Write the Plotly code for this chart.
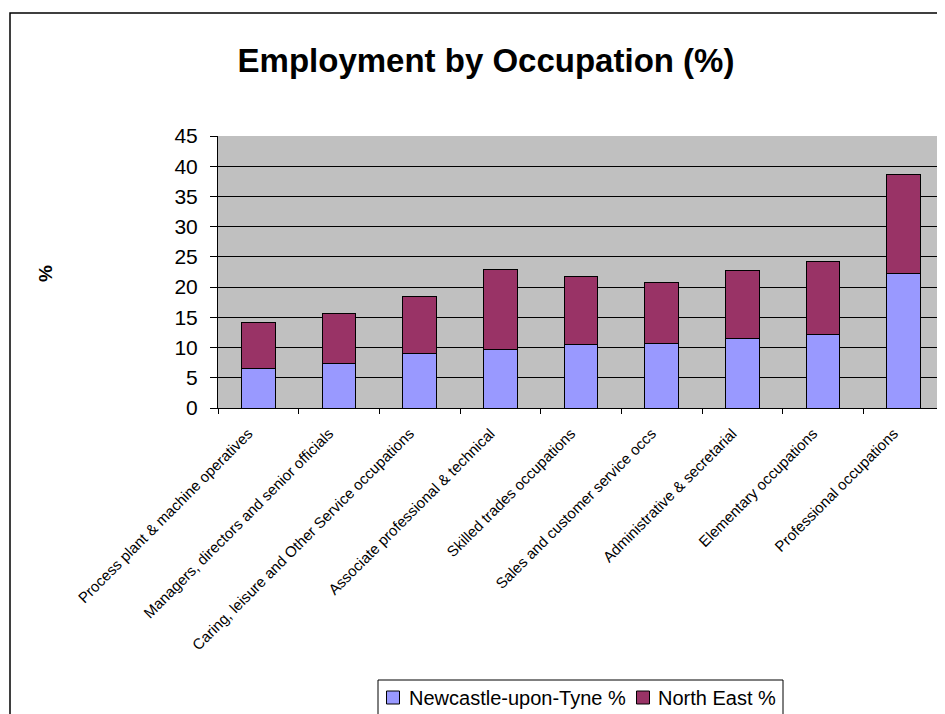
import plotly.graph_objects as go

categories = [
    "Process plant & machine operatives",
    "Managers, directors and senior officials",
    "Caring, leisure and Other Service occupations",
    "Associate professional & technical",
    "Skilled trades occupations",
    "Sales and customer service occs",
    "Administrative & secretarial",
    "Elementary occupations",
    "Professional occupations",
]
newcastle = [6.6, 7.4, 9.0, 9.6, 10.5, 10.7, 11.5, 12.1, 22.2]
north_east = [7.6, 8.3, 9.5, 13.3, 11.3, 10.1, 11.2, 12.2, 16.4]
y_ticks = [0, 5, 10, 15, 20, 25, 30, 35, 40, 45]
series_names = ["Newcastle-upon-Tyne %", "North East %"]
series_colors = ["#9999FF", "#993366"]

FONT = "Liberation Sans, Arial, sans-serif"
OFF = 8  # page body margin

fig = go.Figure()
for vals, name, col in zip([newcastle, north_east], series_names, series_colors):
    fig.add_trace(go.Bar(
        x=categories, y=vals, name=name,
        marker=dict(color=col, line=dict(color="black", width=1)),
        width=0.42, showlegend=False,
    ))

W, H = 945, 714
# plot area in window coords
L, R, T, B = 218, 944, 136, 408
pw, ph = R - L, B - T

def px_x(x):
    return (x - L) / pw

def px_y(y):
    return (B - y) / ph

fig.update_layout(
    width=W, height=H,
    margin=dict(l=L - OFF, r=W - (R - OFF), t=T - OFF, b=H - (B - OFF), autoexpand=False),
    paper_bgcolor="white",
    plot_bgcolor="#C0C0C0",
    barmode="stack",
    font=dict(family=FONT, color="black"),
    title=dict(
        text="<b>Employment by Occupation (%)</b>",
        font=dict(size=33, family=FONT, color="black"),
        x=(486 - OFF) / W, xref="container", xanchor="center",
        y=1 - (60 - OFF) / H, yref="container", yanchor="middle",
    ),
    xaxis=dict(
        type="category",
        tickangle=-45,
        tickfont=dict(size=15, family=FONT),
        ticks="outside", ticklen=5, tickcolor="black",
        tickson="boundaries",
        ticklabelstandoff=10,
        ticklabelshift=-10,
        showline=True, linecolor="black", linewidth=1,
        showgrid=False,
        range=[-0.5, 8.5],
    ),
    yaxis=dict(
        range=[0, 45],
        tickvals=y_ticks,
        tickfont=dict(size=21, family=FONT),
        ticks="outside", ticklen=7, tickcolor="black",
        ticklabelstandoff=8,
        showline=True, linecolor="black", linewidth=1,
        showgrid=True, gridcolor="black", gridwidth=1,
        zeroline=False,
    ),
    showlegend=False,
)

fig.add_annotation(
    text="<b>%</b>", x=px_x(45), y=px_y(274), xref="paper", yref="paper",
    xanchor="center", yanchor="middle",
    showarrow=False, textangle=-90, font=dict(size=19, family=FONT),
)

# outer chart border
fig.add_shape(
    type="rect", xref="paper", yref="paper",
    x0=px_x(10), x1=px_x(970), y0=px_y(760), y1=px_y(13),
    line=dict(color="black", width=1.5), layer="below",
)

# legend box
fig.add_shape(
    type="rect", xref="paper", yref="paper",
    x0=px_x(378), x1=px_x(783), y0=px_y(740), y1=px_y(680),
    line=dict(color="black", width=1), fillcolor="white",
)
leg_sq = [393, 643]
leg_tx = [407, 656]
for sx, tx, name, col in zip(leg_sq, leg_tx, series_names, series_colors):
    fig.add_shape(
        type="rect", xref="paper", yref="paper",
        x0=px_x(sx - 6.5), x1=px_x(sx + 6.5), y0=px_y(704), y1=px_y(691),
        line=dict(color="black", width=1), fillcolor=col,
    )
    fig.add_annotation(
        text=name, x=px_x(tx), y=px_y(697.5), xref="paper", yref="paper",
        xanchor="left", yanchor="middle", showarrow=False,
        font=dict(size=20, family=FONT),
    )

fig.write_html("out.html")
